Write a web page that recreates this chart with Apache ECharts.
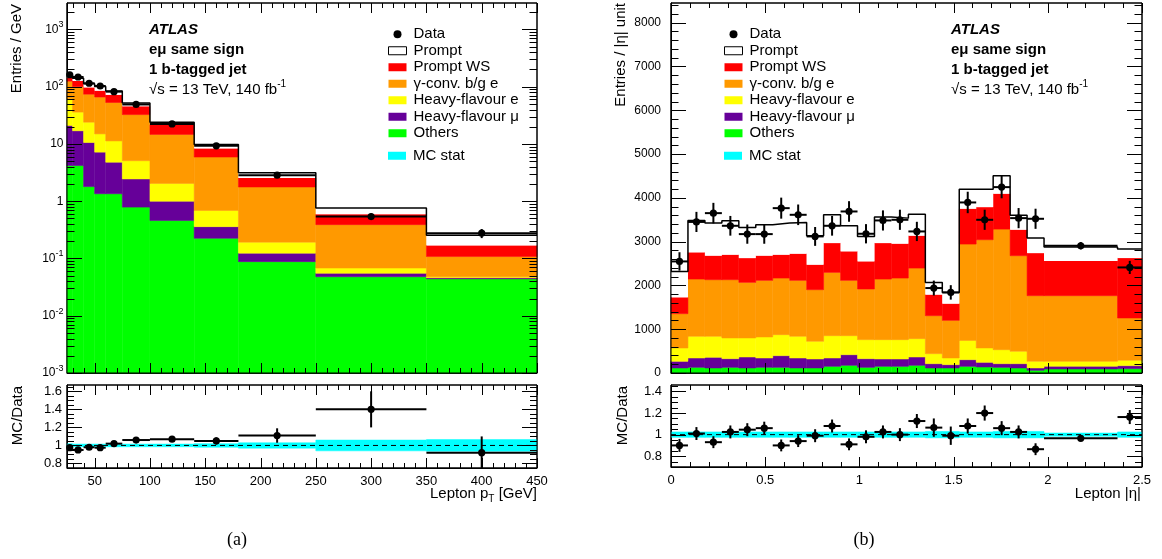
<!DOCTYPE html>
<html>
<head>
<meta charset="utf-8">
<script src="https://cdn.jsdelivr.net/npm/echarts@6/dist/echarts.min.js"></script>
<style>html,body{margin:0;padding:0;background:#fff;} #chart{width:1162px;height:559px;}</style>
</head>
<body>
<div id="chart"></div>
<script>
var FONT = 'Liberation Sans';

// ---- (a) lepton pT : entries / GeV (log)
var ptEdges = [25, 30, 40, 50, 60, 75, 100, 140, 180, 250, 350, 450];
var ptOthers   = [4.2, 4.2, 1.8, 1.35, 1.35, 0.79, 0.46, 0.225, 0.088, 0.048, 0.044];
var ptHFmu     = [16.8, 12.8, 8.8, 5.85, 3.45, 1.66, 0.54, 0.135, 0.036, 0.007, 0.002];
var ptHFe      = [41, 19, 13.4, 7.8, 6.5, 2.65, 1.05, 0.33, 0.069, 0.013, 0.002];
var ptGconv    = [63, 64, 50, 51, 41.7, 27.5, 12.65, 5.21, 1.577, 0.322, 0.06];
var ptPromptWS = [18, 26, 23, 19, 19, 12.9, 6.8, 2.4, 0.78, 0.2, 0.061];
var ptPrompt   = [16, 15, 16, 16, 12, 6.5, 2.5, 1.5, 0.6, 0.17, 0.086];
var ptData     = [162, 148, 115, 103, 82, 49, 22.4, 9.3, 2.85, 0.54, 0.277];
var ptDataErr  = [6, 4, 3.5, 3.3, 2.4, 1.3, 0.5, 0.3, 0.15, 0.07, 0.05];
var ptRatio    = [0.975, 0.95, 0.98, 0.975, 1.02, 1.06, 1.07, 1.05, 1.11, 1.40, 0.92];
var ptRatioErr = [0.025, 0.02, 0.02, 0.02, 0.02, 0.02, 0.025, 0.04, 0.08, 0.2, 0.18];
var ptStat     = [0.02, 0.015, 0.015, 0.015, 0.015, 0.015, 0.015, 0.02, 0.03, 0.06, 0.065];

// ---- (b) lepton |eta| : entries / |eta| unit
var etaEdges = [0, 0.09, 0.18, 0.27, 0.36, 0.45, 0.54, 0.63, 0.72, 0.81, 0.9, 0.99, 1.08, 1.17,
                1.26, 1.35, 1.44, 1.53, 1.62, 1.71, 1.8, 1.89, 1.98, 2.37, 2.5];
var etaOthers   = [114, 129, 114, 129, 114, 129, 129, 114, 114, 152, 175, 129, 152, 152, 175, 114, 114, 152, 137, 129, 114, 61, 91, 99];
var etaHFmu     = [152, 213, 244, 198, 251, 213, 267, 228, 206, 190, 243, 198, 168, 168, 190, 99, 76, 152, 106, 84, 99, 53, 61, 68];
var etaHFe      = [304, 495, 479, 472, 434, 480, 479, 495, 403, 510, 434, 434, 441, 441, 419, 228, 152, 441, 328, 319, 282, 152, 114, 122];
var etaGconv    = [784, 1308, 1293, 1331, 1270, 1293, 1293, 1278, 1179, 1445, 1263, 1156, 1384, 1407, 1612, 867, 860, 2199, 2472, 2754, 2183, 1499, 1499, 966];
var etaPromptWS = [373, 609, 548, 570, 555, 563, 532, 608, 570, 670, 662, 631, 822, 784, 738, 480, 380, 806, 745, 807, 593, 973, 791, 1369];
var etaPrompt   = [593, 730, 745, 776, 700, 707, 723, 715, 662, 646, 585, 571, 593, 585, 494, 281, 258, 449, 411, 410, 329, 343, 324, 206];
var etaData     = [2548, 3450, 3651, 3362, 3172, 3172, 3765, 3613, 3119, 3362, 3689, 3180, 3484, 3499, 3233, 1940, 1841, 3895, 3499, 4245, 3537, 3522, 2906, 2411];
var etaDataErr  = [210, 230, 235, 225, 220, 220, 240, 235, 215, 225, 235, 220, 230, 230, 220, 170, 165, 245, 230, 255, 230, 230, 85, 150];
var etaRatio    = [0.90, 1.01, 0.93, 1.025, 1.046, 1.06, 0.90, 0.94, 0.99, 1.08, 0.91, 0.98, 1.025, 1.0, 1.126, 1.065, 0.99, 1.08, 1.2, 1.06, 1.025, 0.865, 0.966, 1.163];
var etaRatioErr = [0.06, 0.06, 0.055, 0.06, 0.06, 0.06, 0.055, 0.055, 0.06, 0.06, 0.055, 0.06, 0.06, 0.06, 0.065, 0.085, 0.085, 0.07, 0.07, 0.065, 0.06, 0.055, 0.025, 0.065];
var etaStat     = [0.025, 0.025, 0.025, 0.025, 0.025, 0.025, 0.025, 0.025, 0.025, 0.025, 0.025, 0.025, 0.025, 0.025, 0.025, 0.03, 0.03, 0.025, 0.025, 0.03, 0.03, 0.03, 0.015, 0.025];

// tick values
var ptMajor = [50, 100, 150, 200, 250, 300, 350, 400, 450];
var logMajor = [0.001, 0.01, 0.1, 1, 10, 100, 1000];
var etaMajor = [0, 0.5, 1, 1.5, 2, 2.5];
var cntMajor = [0, 1000, 2000, 3000, 4000, 5000, 6000, 7000, 8000];
var ratioMajorA = [0.8, 1, 1.2, 1.4, 1.6];
var ratioMajorB = [0.8, 1, 1.2, 1.4];

var comps = [
  {name: 'Others', color: '#00ff00'},
  {name: 'Heavy-flavour μ', color: '#660099'},
  {name: 'Heavy-flavour e', color: '#ffff00'},
  {name: 'γ-conv. b/g e', color: '#ff9900'},
  {name: 'Prompt WS', color: '#ff0000'},
  {name: 'Prompt', color: '#ffffff'}
];

function steps(from, to, step, skip) {
  var out = [];
  for (var i = 0; from + i * step <= to + 1e-9; i++) {
    var v = +(from + i * step).toFixed(6);
    if (skip.indexOf(v) < 0) out.push(v);
  }
  return out;
}
var logMinor = [];
logMajor.forEach(function (d) {
  for (var k = 2; k <= 9; k++) { var v = +(d * k).toPrecision(3); if (v < 2900) logMinor.push(v); }
});
var ptMinor = steps(30, 440, 10, ptMajor);
var etaMinor = steps(0.1, 2.4, 0.1, etaMajor);

function logFmt(v) {
  var e = Math.round(Math.log10(v));
  if (e === 0) return '1';
  if (e === 1) return '10';
  return '10{sup|' + (e < 0 ? '-' + (-e) : e) + '}';
}
function plainFmt(v) { return String(+v.toFixed(4)); }

function axis(gi, o) {
  return {
    gridIndex: gi, type: o.type || 'value', min: o.min, max: o.max,
    splitLine: {show: false},
    axisLine: {show: true, lineStyle: {color: '#000', width: 1}},
    axisTick: {show: false},
    axisLabel: {
      show: !!o.labels, customValues: o.major, formatter: o.fmt || plainFmt, color: '#000',
      fontFamily: FONT, fontSize: o.fs || 12, margin: o.margin || 4, lineHeight: 18,
      rich: {sup: {fontFamily: FONT, fontSize: 9, lineHeight: 9, verticalAlign: 'top'}}
    }
  };
}

var xAxes = [
  axis(0, {min: 25, max: 450, major: ptMajor}),
  axis(1, {min: 25, max: 450, major: ptMajor, labels: true, fs: 13, margin: 4}),
  axis(2, {min: 0, max: 2.5, major: etaMajor}),
  axis(3, {min: 0, max: 2.5, major: etaMajor, labels: true, fs: 13, margin: 4})
];
var yAxes = [
  axis(0, {type: 'log', min: 0.001, max: 2900, major: logMajor, labels: true, fs: 12, margin: 3.5, fmt: logFmt}),
  axis(1, {min: 0.75, max: 1.67, major: ratioMajorA, labels: true, fs: 13, margin: 5}),
  axis(2, {min: 0, max: 8450, major: cntMajor, labels: true, fs: 12, margin: 10}),
  axis(3, {min: 0.7, max: 1.46, major: ratioMajorB, labels: true, fs: 13, margin: 9})
];

function rectRender(params, api) {
  var p0 = api.coord([api.value(0), api.value(3)]);
  var p1 = api.coord([api.value(1), api.value(2)]);
  var cs = params.coordSys;
  var shape = echarts.graphic.clipRectByRect(
    {x: p0[0], y: p0[1], width: p1[0] - p0[0], height: p1[1] - p0[1]},
    {x: cs.x, y: cs.y, width: cs.width, height: cs.height});
  if (!shape) return;
  var c = api.visual('color');
  return {type: 'rect', shape: shape, style: {fill: c, stroke: c === '#ffffff' ? null : c, lineWidth: 0.5}};
}

function errRender(params, api) {
  var x = api.value(0), y = api.value(1), e = api.value(4);
  var cs = params.coordSys;
  var c = api.coord([x, y]);
  var l = api.coord([api.value(2), y]), r = api.coord([api.value(3), y]);
  var t = api.coord([x, y + e]), b = api.coord([x, Math.max(y - e, 1e-6)]);
  var top = Math.max(t[1], cs.y), bot = Math.min(b[1], cs.y + cs.height);
  return {type: 'group', children: [
    {type: 'line', shape: {x1: l[0], y1: c[1], x2: r[0], y2: c[1]}, style: {stroke: '#000', lineWidth: 2}},
    {type: 'line', shape: {x1: c[0], y1: top, x2: c[0], y2: bot}, style: {stroke: '#000', lineWidth: 2}},
    {type: 'circle', shape: {cx: c[0], cy: c[1], r: 3.6}, style: {fill: '#000'}}
  ]};
}

function stackPanel(edges, valsList, floor, ai) {
  var series = [];
  var base = edges.slice(1).map(function () { return 0; });
  valsList.forEach(function (vals, k) {
    var data = vals.map(function (v, i) {
      var lo = k === 0 ? floor : base[i];
      base[i] += v;
      return [edges[i], edges[i + 1], lo, base[i]];
    });
    series.push({type: 'custom', name: comps[k].name, xAxisIndex: ai, yAxisIndex: ai, renderItem: rectRender,
      itemStyle: {color: comps[k].color}, encode: {x: [0, 1], y: [2, 3]}, data: data, z: 2, silent: true});
  });
  var outline = edges.map(function (e, i) { return [e, base[Math.min(i, base.length - 1)]]; });
  series.push({type: 'line', name: 'outline', step: 'end', xAxisIndex: ai, yAxisIndex: ai, symbol: 'none',
    data: outline, lineStyle: {color: '#000', width: 1.5}, z: 3, silent: true});
  return series;
}

function pointSeries(edges, vals, errs, ai) {
  var data = vals.map(function (v, i) {
    return [(edges[i] + edges[i + 1]) / 2, v, edges[i], edges[i + 1], errs[i]];
  });
  return {type: 'custom', name: 'Data', xAxisIndex: ai, yAxisIndex: ai, renderItem: errRender,
    itemStyle: {color: '#000'}, encode: {x: 0, y: 1}, data: data, z: 5, silent: true};
}

function ratioPanel(edges, ratio, errs, stat, ai) {
  var band = stat.map(function (s, i) { return [edges[i], edges[i + 1], 1 - s, 1 + s]; });
  return [
    {type: 'custom', name: 'MC stat', xAxisIndex: ai, yAxisIndex: ai, renderItem: rectRender,
      itemStyle: {color: '#00ffff'}, encode: {x: [0, 1], y: [2, 3]}, data: band, z: 2, silent: true},
    {type: 'line', name: 'unity', xAxisIndex: ai, yAxisIndex: ai, symbol: 'none', silent: true, z: 3,
      data: [[edges[0], 1], [edges[edges.length - 1], 1]], lineStyle: {color: '#000', width: 1, type: [5, 4]}},
    pointSeries(edges, ratio, errs, ai)
  ];
}

var series = [].concat(
  stackPanel(ptEdges, [ptOthers, ptHFmu, ptHFe, ptGconv, ptPromptWS, ptPrompt], 0.001, 0),
  [pointSeries(ptEdges, ptData, ptDataErr, 0)],
  ratioPanel(ptEdges, ptRatio, ptRatioErr, ptStat, 1),
  stackPanel(etaEdges, [etaOthers, etaHFmu, etaHFe, etaGconv, etaPromptWS, etaPrompt], 0, 2),
  [pointSeries(etaEdges, etaData, etaDataErr, 2)],
  ratioPanel(etaEdges, etaRatio, etaRatioErr, etaStat, 3)
);

var legendItems = [
  {name: 'Data', icon: 'circle', itemStyle: {color: '#000'}},
  {name: 'Prompt', itemStyle: {color: '#fff', borderColor: '#000', borderWidth: 1}},
  {name: 'Prompt WS', itemStyle: {color: '#ff0000'}},
  {name: 'γ-conv. b/g e', itemStyle: {color: '#ff9900'}},
  {name: 'Heavy-flavour e', itemStyle: {color: '#ffff00'}},
  {name: 'Heavy-flavour μ', itemStyle: {color: '#660099'}},
  {name: 'Others', itemStyle: {color: '#00ff00'}}
];
function legendAt(left, top, items) {
  return {left: left, top: top, orient: 'vertical', icon: 'rect', itemWidth: 18, itemHeight: 8, itemGap: 0,
    selectedMode: false, padding: 0, data: items,
    textStyle: {fontFamily: FONT, fontSize: 15, color: '#000', lineHeight: 16.5, padding: [0, 0, 0, 2]}};
}

function txt(x, y, text, o) {
  o = o || {};
  return {type: 'text', x: x, y: y, rotation: o.rot || 0, silent: true, z: 50,
    style: {text: text, fill: '#000', fontFamily: o.family || FONT, fontSize: o.fs || 15,
      fontWeight: o.weight || 'normal', fontStyle: o.style || 'normal',
      align: o.align || 'left', verticalAlign: 'middle', lineHeight: 20,
      rich: {
        sup: {fontFamily: FONT, fontSize: 10, lineHeight: 10, verticalAlign: 'top'},
        sub: {fontFamily: FONT, fontSize: 10, lineHeight: 8, verticalAlign: 'bottom'}
      }}};
}

function atlasBlock(x) {
  return [
    txt(x, 29.5, 'ATLAS', {weight: 'bold', style: 'italic'}),
    txt(x, 49.5, 'eμ same sign', {weight: 'bold'}),
    txt(x, 69.5, '1 b-tagged jet', {weight: 'bold'}),
    txt(x, 89.5, '√s = 13 TeV, 140 fb{sup|-1}')
  ];
}

function makeTexts() {
  return [].concat(
    atlasBlock(149),
    atlasBlock(951),
    [
      txt(17, 4, 'Entries / GeV', {rot: Math.PI / 2, align: 'right'}),
      txt(18, 386, 'MC/Data', {rot: Math.PI / 2, align: 'right'}),
      txt(621, 3, 'Entries / |η| unit', {rot: Math.PI / 2, align: 'right'}),
      txt(623, 386, 'MC/Data', {rot: Math.PI / 2, align: 'right'}),
      txt(537, 494, 'Lepton p{sub|T} [GeV]', {align: 'right'}),
      txt(1141, 494, 'Lepton |η|', {align: 'right'}),
      txt(237, 540, '(a)', {align: 'center', family: 'Liberation Serif', fs: 18}),
      txt(864, 540, '(b)', {align: 'center', family: 'Liberation Serif', fs: 18})
    ]
  );
}

var chart = echarts.init(document.getElementById('chart'));
chart.setOption({
  animation: false,
  grid: [
    {left: 67, top: 3, width: 470, height: 370, show: true, borderColor: '#000', borderWidth: 1},
    {left: 67, top: 385, width: 470, height: 83, show: true, borderColor: '#000', borderWidth: 1},
    {left: 671, top: 3, width: 471, height: 370, show: true, borderColor: '#000', borderWidth: 1},
    {left: 671, top: 385, width: 471, height: 82, show: true, borderColor: '#000', borderWidth: 1}
  ],
  xAxis: xAxes,
  yAxis: yAxes,
  legend: [
    legendAt(388, 26, legendItems),
    legendAt(388, 147.5, [{name: 'MC stat', itemStyle: {color: '#00ffff'}}]),
    legendAt(724, 26, legendItems),
    legendAt(724, 147.5, [{name: 'MC stat', itemStyle: {color: '#00ffff'}}])
  ],
  series: series
});

// frame and inside ticks on all four sides, placed through the axes' own scales
var tickSpec = [
  {ai: 0, x: [ptMajor, ptMinor], xLen: [10, 5], x0: 25, x1: 450,
          y: [logMajor, logMinor], yLen: [15, 7.5], y0: 0.001, y1: 2900},
  {ai: 1, x: [ptMajor, ptMinor], xLen: [10, 5], x0: 25, x1: 450,
          y: [ratioMajorA, steps(0.75, 1.65, 0.05, ratioMajorA)], yLen: [15, 7], y0: 0.75, y1: 1.67},
  {ai: 2, x: [etaMajor, etaMinor], xLen: [10, 5], x0: 0, x1: 2.5,
          y: [cntMajor, steps(200, 8400, 200, cntMajor)], yLen: [15, 7.5], y0: 0, y1: 8450},
  {ai: 3, x: [etaMajor, etaMinor], xLen: [10, 5], x0: 0, x1: 2.5,
          y: [ratioMajorB, steps(0.7, 1.45, 0.05, ratioMajorB)], yLen: [15, 7], y0: 0.7, y1: 1.46}
];
function seg(x1, y1, x2, y2) {
  return {type: 'line', z: 100, silent: true, shape: {x1: x1, y1: y1, x2: x2, y2: y2},
    style: {stroke: '#000', lineWidth: 1}};
}
var ticks = [];
try {
  tickSpec.forEach(function (t) {
    var px = function (v) { return chart.convertToPixel({xAxisIndex: t.ai}, v); };
    var py = function (v) { return chart.convertToPixel({yAxisIndex: t.ai}, v); };
    var xl = px(t.x0), xr = px(t.x1), yb = py(t.y0), yt = py(t.y1);
    ticks.push(seg(xl, yt, xr, yt), seg(xr, yt, xr, yb), seg(xl, yb, xr, yb), seg(xl, yt, xl, yb));
    [0, 1].forEach(function (m) {
      t.x[m].forEach(function (v) {
        var x = Math.round(px(v)) + 0.5, len = t.xLen[m];
        ticks.push(seg(x, yb, x, yb - len), seg(x, yt, x, yt + len));
      });
      t.y[m].forEach(function (v) {
        var y = Math.round(py(v)) + 0.5, len = t.yLen[m];
        ticks.push(seg(xl, y, xl + len, y), seg(xr, y, xr - len, y));
      });
    });
  });
} catch (e) { ticks = []; }
chart.setOption({graphic: makeTexts().concat(ticks)});
</script>
</body>
</html>
